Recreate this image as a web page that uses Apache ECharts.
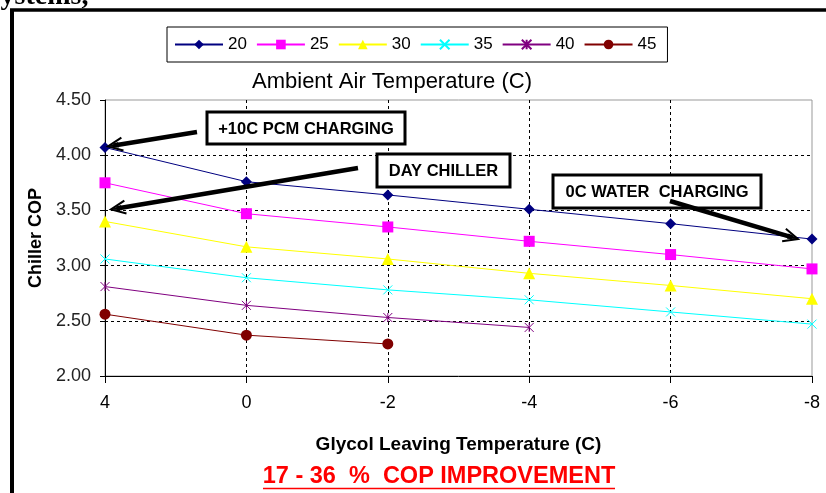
<!DOCTYPE html>
<html>
<head>
<meta charset="utf-8">
<script src="https://cdn.jsdelivr.net/npm/echarts@6/dist/echarts.min.js"></script>
<style>
html,body{margin:0;padding:0;background:#fff;}
#chart{width:826px;height:493px;}
</style>
</head>
<body>
<div id="chart"></div>
<script>
var categories = ['4', '0', '-2', '-4', '-6', '-8'];
var seriesNames = ['20', '25', '30', '35', '40', '45'];
var s20 = [4.07, 3.76, 3.64, 3.51, 3.38, 3.24];
var s25 = [3.75, 3.47, 3.35, 3.22, 3.10, 2.97];
var s30 = [3.40, 3.17, 3.06, 2.93, 2.82, 2.70];
var s35 = [3.06, 2.89, 2.78, 2.69, 2.58, 2.47];
var s40 = [2.81, 2.64, 2.53, 2.44, null, null];
var s45 = [2.56, 2.37, 2.29, null, null, null];
var yTicks = { min: 2.0, max: 4.5, interval: 0.5 };

var colors = ['#000080', '#FF00FF', '#FFFF00', '#00FFFF', '#800080', '#800000'];
var symbols = ['diamond', 'rect', 'triangle',
  'path://M0,0L10,10M10,0L0,10',
  'path://M0,0L10,10M10,0L0,10M5,0L5,10',
  'circle'];
var symbolSizes = [11, 11, 12, 9, 9, 11];
var allData = [s20, s25, s30, s35, s40, s45];

var chart = echarts.init(document.getElementById('chart'), null, { renderer: 'canvas' });
var FONT = 'Liberation Sans, Arial, sans-serif';

var series = allData.map(function (d, i) {
  var isPath = i === 3 || i === 4;
  return {
    name: seriesNames[i],
    type: 'line',
    data: d,
    symbol: symbols[i],
    symbolSize: symbolSizes[i],
    showAllSymbol: true,
    lineStyle: { color: colors[i], width: 1 },
    itemStyle: isPath ? { color: colors[i], borderColor: colors[i], borderWidth: 1 } : { color: colors[i] },
    emphasis: { disabled: true },
    animation: false,
    z: 3
  };
});

chart.setOption({
  animation: false,
  backgroundColor: '#ffffff',
  textStyle: { fontFamily: FONT },
  legend: {
    left: 167, top: 27,
    padding: [9, 11, 9, 7],
    borderColor: '#000', borderWidth: 1,
    itemWidth: 48, itemHeight: 12, itemGap: 9,
    textStyle: { fontSize: 17, color: '#000', fontFamily: FONT },
    data: seriesNames
  },
  grid: {
    left: 105, right: 14, top: 100, bottom: 117,
    show: true, borderColor: '#999', borderWidth: 1, backgroundColor: '#fff'
  },
  xAxis: {
    type: 'category',
    data: categories,
    boundaryGap: false,
    name: 'Glycol Leaving Temperature (C)',
    nameLocation: 'middle',
    nameGap: 59,
    nameTextStyle: { fontSize: 19, fontWeight: 'bold', color: '#000', fontFamily: FONT },
    axisLine: { lineStyle: { color: '#000', width: 1 } },
    axisTick: { show: true, length: 7, alignWithLabel: true, lineStyle: { color: '#000' } },
    axisLabel: { fontSize: 18, color: '#000', margin: 18, fontFamily: FONT },
    splitLine: { show: true, showMinLine: false, showMaxLine: false, lineStyle: { color: '#000', type: [3, 3], width: 1 } }
  },
  yAxis: {
    type: 'value',
    min: yTicks.min, max: yTicks.max, interval: yTicks.interval,
    name: 'Chiller COP',
    nameLocation: 'middle',
    nameRotate: 90,
    nameGap: 54,
    nameTextStyle: { fontSize: 18, fontWeight: 'bold', color: '#000', fontFamily: FONT },
    axisLine: { show: true, lineStyle: { color: '#000', width: 1 } },
    axisTick: { show: true, length: 5, lineStyle: { color: '#000' } },
    axisLabel: { fontSize: 18, color: '#222', margin: 14, fontFamily: FONT,
      formatter: function (v) { return v.toFixed(2); } },
    splitLine: { show: true, showMinLine: false, showMaxLine: false, lineStyle: { color: '#000', type: [3, 3], width: 1 } }
  },
  series: series
});

function px(cat, val) { return chart.convertToPixel({ gridIndex: 0 }, [cat, val]); }

function arrow(x1, y1, x2, y2) {
  var ang = Math.atan2(y2 - y1, x2 - x1);
  var hl = 16, hw = 0.42;
  var a1 = [x2 - hl * Math.cos(ang - hw), y2 - hl * Math.sin(ang - hw)];
  var a2 = [x2 - hl * Math.cos(ang + hw), y2 - hl * Math.sin(ang + hw)];
  var sx = x2 - 6 * Math.cos(ang), sy = y2 - 6 * Math.sin(ang);
  return [
    { type: 'line', shape: { x1: x1, y1: y1, x2: sx, y2: sy }, style: { stroke: '#000', lineWidth: 4.5 }, z: 25 },
    { type: 'polyline', shape: { points: [a1, [x2, y2], a2] }, style: { stroke: '#000', lineWidth: 2, fill: null }, z: 25 },
    { type: 'polygon', shape: { points: [[x2, y2], [x2 - 11 * Math.cos(ang - 0.25), y2 - 11 * Math.sin(ang - 0.25)], [x2 - 11 * Math.cos(ang + 0.25), y2 - 11 * Math.sin(ang + 0.25)]] }, style: { fill: '#000' }, z: 25 }
  ];
}

function box(x, y, w, h, text) {
  return [
    { type: 'rect', shape: { x: x, y: y, width: w, height: h }, style: { fill: '#fff', stroke: '#000', lineWidth: 3 }, z: 21 },
    { type: 'text', style: { x: x + w / 2, y: y + h / 2 + 1, text: text, align: 'center', verticalAlign: 'middle',
      font: 'bold 16.5px ' + FONT, fill: '#000' }, z: 22 }
  ];
}

var p1 = px('4', s20[0]);
var p2 = px('4', 3.50);
var p3 = px('-8', s20[5]);

var g = [];
// outer frame
g.push({ type: 'line', shape: { x1: 10, y1: 10, x2: 830, y2: 10 }, style: { stroke: '#000', lineWidth: 3.5 }, z: 30 });
g.push({ type: 'line', shape: { x1: 12, y1: 10, x2: 12, y2: 500 }, style: { stroke: '#000', lineWidth: 4 }, z: 30 });
// cut-off text at top
g.push({ type: 'text', style: { x: -15, y: 11, text: 'Systems,', verticalAlign: 'bottom', font: 'bold 28px Liberation Serif, Times New Roman, serif', fill: '#000' }, z: 30 });
// title
g.push({ type: 'text', style: { x: 392, y: 82, text: 'Ambient Air Temperature (C)', align: 'center', verticalAlign: 'middle', font: '22px ' + FONT, fill: '#000' }, z: 10 });
// annotations
g = g.concat(box(207, 112, 198, 32, '+10C PCM CHARGING'));
g = g.concat(box(377, 154, 133, 33, 'DAY CHILLER'));
g = g.concat(box(553, 175, 208, 33, '0C WATER  CHARGING'));
g = g.concat(arrow(197, 132, p1[0] + 3, p1[1] - 1));
g = g.concat(arrow(358, 168, p2[0] + 6, p2[1] - 1));
g = g.concat(arrow(670, 201, p3[0] - 14, p3[1]));
// bottom red note
g.push({ type: 'text', style: { x: 439, y: 477, text: '17 - 36  %  COP IMPROVEMENT', align: 'center', verticalAlign: 'middle', font: 'bold 23.5px ' + FONT, fill: '#FF0000' }, z: 10 });
g.push({ type: 'line', shape: { x1: 263, y1: 488.5, x2: 615, y2: 488.5 }, style: { stroke: '#FF0000', lineWidth: 1.5 }, z: 10 });

chart.setOption({ graphic: g });
</script>
</body>
</html>
